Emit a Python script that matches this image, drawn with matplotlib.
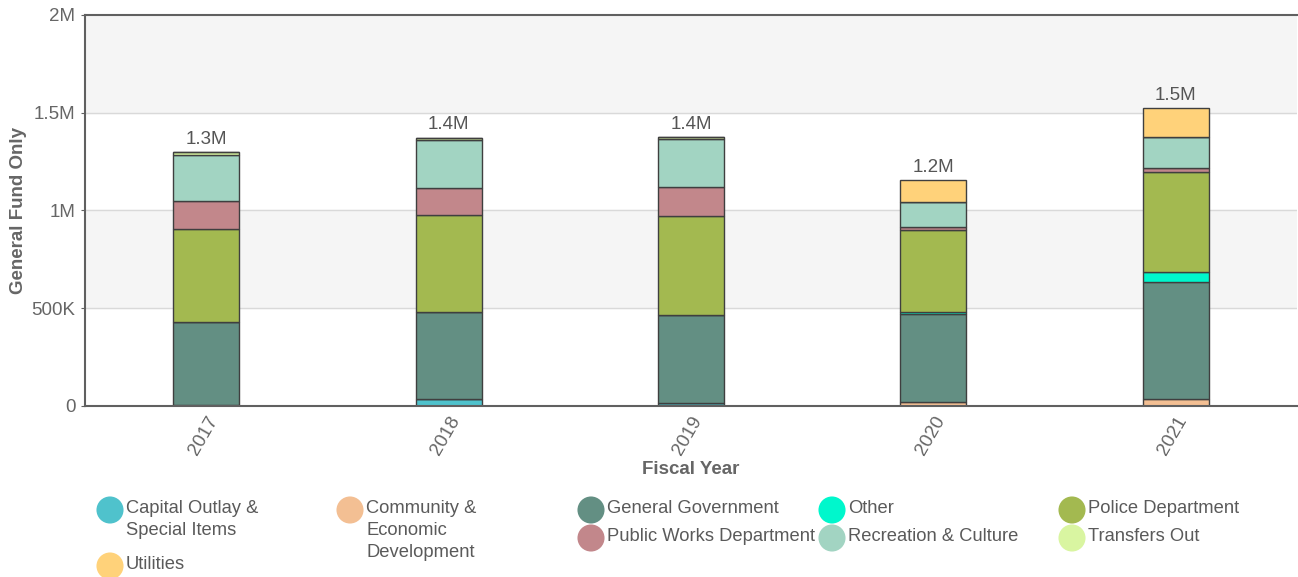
import matplotlib
matplotlib.use("Agg")
import matplotlib.pyplot as plt
import numpy as np

plt.rcParams['font.family'] = ['Liberation Sans', 'DejaVu Sans']

years = ["2017", "2018", "2019", "2020", "2021"]
bar_labels = ["1.3M", "1.4M", "1.4M", "1.2M", "1.5M"]

# values in thousands, bottom to top of each stack
capital_outlay = [3, 38, 15, 0, 0]
community_econ = [0, 0, 0, 19, 34]
general_government = [425, 444, 450, 450, 600]
other = [0, 0, 0, 10, 50]
police = [476, 497, 507, 421, 515]
public_works = [145, 134, 150, 17, 17]
recreation = [235, 248, 242, 125, 158]
transfers_out = [14, 12, 10, 0, 0]
utilities = [0, 0, 0, 114, 149]

series = [
    ("Capital Outlay &\nSpecial Items", capital_outlay, "#4fc2cc"),
    ("Community &\nEconomic\nDevelopment", community_econ, "#f3bf93"),
    ("General Government", general_government, "#638f83"),
    ("Other", other, "#00f7cc"),
    ("Police Department", police, "#a3b950"),
    ("Public Works Department", public_works, "#c2878b"),
    ("Recreation & Culture", recreation, "#a2d4c2"),
    ("Transfers Out", transfers_out, "#d9f5a1"),
    ("Utilities", utilities, "#ffd27a"),
]

W, H = 1298, 577
fig = plt.figure(figsize=(W / 100, H / 100), dpi=100)
ax = fig.add_axes([85 / W, 1 - 406 / H, (1297 - 85) / W, (406 - 15) / H])

ax.set_xlim(-0.5, len(years) - 0.5)
ax.set_ylim(0, 2000)

# alternate bands and grid
ax.axhspan(500, 1000, color="#f5f5f5", zorder=0)
ax.axhspan(1500, 2000, color="#f5f5f5", zorder=0)
for g in [500, 1000, 1500]:
    ax.axhline(g, color="#d9d9d9", lw=1, zorder=0.5)

x = np.arange(len(years))
bottom = np.zeros(len(years))
for name, vals, col in series:
    vals = np.array(vals, dtype=float)
    ax.bar(x, vals, bottom=bottom, width=0.272, color=col,
           edgecolor="#3f3f3f", linewidth=1.0, zorder=2)
    bottom += vals

for xi, tot, lab in zip(x, bottom, bar_labels):
    ax.annotate(lab, (xi, tot), xytext=(0, 3), textcoords="offset points",
                ha="center", va="bottom", fontsize=13.5, color="#555555")

for s in ["left", "bottom", "top"]:
    ax.spines[s].set_color("#606060")
    ax.spines[s].set_linewidth(1.5)
ax.spines["right"].set_visible(False)

ax.set_yticks([0, 500, 1000, 1500, 2000])
ax.set_yticklabels(["0", "500K", "1M", "1.5M", "2M"])
ax.tick_params(axis="y", length=3, color="#606060", labelsize=13.5,
               labelcolor="#666666", pad=4)
ax.set_xticks(x)
ax.set_xticklabels(years, rotation=60, ha="right", va="top",
                   rotation_mode="anchor")
ax.tick_params(axis="x", length=0, labelsize=13.5, labelcolor="#666666", pad=5)

ax.set_ylabel("General Fund Only", fontsize=13.5, fontweight="bold",
              color="#666666", labelpad=3)
ax.set_xlabel("Fiscal Year", fontsize=13.5, fontweight="bold",
              color="#666666", labelpad=2)

# legend: five columns, items placed the way the reference wraps them
leg = fig.add_axes([0, 0, 1, 1])
leg.set_xlim(0, W)
leg.set_ylim(H, 0)
leg.axis("off")
col_x = [110, 350, 591, 832, 1072]
legend_slots = [(0, 0), (1, 0), (2, 0), (3, 0), (4, 0),
                (2, 1), (3, 1), (4, 1), (0, 2)]
row_y = [510, 538, 566]
for (name, vals, col), (c, r) in zip(series, legend_slots):
    y = row_y[r]
    leg.scatter([col_x[c]], [y], s=380, color=col, edgecolor="none")
    leg.text(col_x[c] + 16, y - 10, name, fontsize=13.2, color="#5a5a5a",
             ha="left", va="top", linespacing=1.4)

fig.savefig("out.png", dpi=100)
